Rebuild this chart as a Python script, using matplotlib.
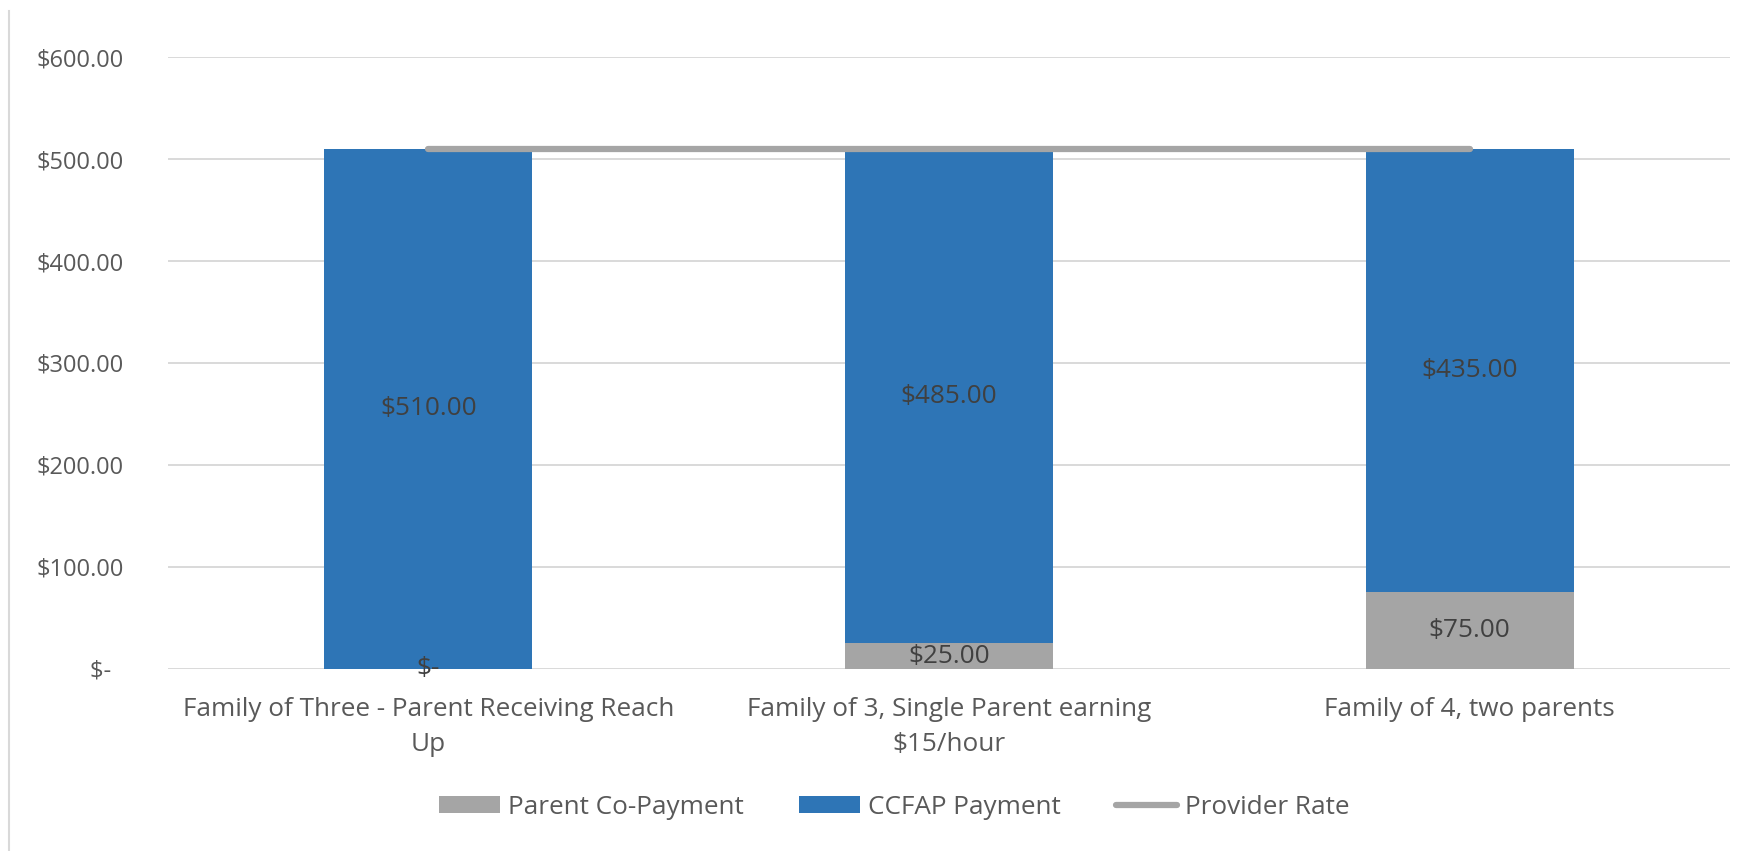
import matplotlib
matplotlib.use("Agg")
import matplotlib.pyplot as plt
from matplotlib.lines import Line2D
import numpy as np

categories = ["Family of Three - Parent Receiving Reach\nUp",
              "Family of 3, Single Parent earning\n$15/hour",
              "Family of 4, two parents"]
parent_copay = [0, 25, 75]
ccfap_payment = [510, 485, 435]
provider_rate = [510, 510, 510]
y_ticks = [0, 100, 200, 300, 400, 500, 600]

plt.rcParams['font.family'] = ['Open Sans', 'DejaVu Sans']
FS_TICK = 17
FS = 18.8
TXT = '#595959'
LBL = '#404040'
GRAY = '#a5a5a5'
BLUE = '#2e75b6'

def money(v):
    return "$-" if v == 0 else f"${v:,.2f}"

fig = plt.figure(figsize=(17.5, 8.51), dpi=100)
ax = fig.add_axes([0.096, 0.2139, 0.8926, 0.7191])

x = np.arange(len(categories))
b1 = ax.bar(x, parent_copay, width=0.4, color=GRAY, label='Parent Co-Payment', zorder=2)
b2 = ax.bar(x, ccfap_payment, width=0.4, bottom=parent_copay, color=BLUE,
            label='CCFAP Payment', zorder=2)
ln, = ax.plot(x, provider_rate, color=GRAY, lw=4.5, solid_capstyle='round',
              label='Provider Rate', zorder=3)

ax.bar_label(b1, labels=[money(v) for v in parent_copay], label_type='center',
             fontsize=FS, color=LBL, zorder=4)
ax.bar_label(b2, labels=[money(v) for v in ccfap_payment], label_type='center',
             fontsize=FS, color=LBL, zorder=4)

ax.set_xlim(-0.5, len(categories) - 0.5)
ax.set_ylim(0, 600)
ax.set_yticks(y_ticks)
ax.set_yticklabels([money(v) + ("  " if v == 0 else "") for v in y_ticks],
                   fontsize=FS_TICK, color=TXT)
ax.set_xticks(x)
ax.set_xticklabels(categories, fontsize=FS, color=TXT, linespacing=1.48)
ax.tick_params(axis='y', length=0, pad=32)
ax.tick_params(axis='x', length=0, pad=20.5)
ax.grid(axis='y', color='#d9d9d9', lw=1.4, zorder=0)
ax.set_axisbelow(True)
for s in ax.spines.values():
    s.set_visible(False)

leg = fig.legend(handles=[b1, b2, ln], loc='center', bbox_to_anchor=(0.511, 0.0517),
                 ncol=3, frameon=False, fontsize=FS, handlelength=2.35,
                 handleheight=0.65, handletextpad=0.3, columnspacing=2.1,
                 borderpad=0)
for t in leg.get_texts():
    t.set_color(TXT)

fig.add_artist(Line2D([9 / 1750, 9 / 1750], [0, 1 - 11 / 851],
                      transform=fig.transFigure, color='#d9d9d9', lw=1.5))

fig.savefig("out.png", dpi=100)
